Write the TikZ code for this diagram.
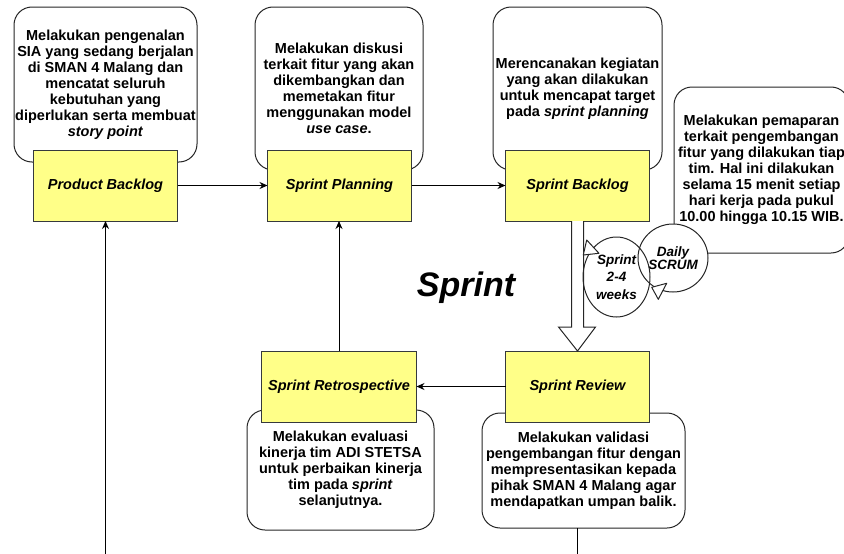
\documentclass[tikz,border=0pt]{standalone}
\usepackage{fontspec}
\setmainfont{Liberation Sans}
\usepackage{xcolor}
\usetikzlibrary{shapes,arrows,positioning,calc,arrows.meta}
\definecolor{boxyellow}{HTML}{FFFF88}
\definecolor{boxline}{HTML}{36393D}

\begin{document}
\begin{tikzpicture}[x=1pt, y=-1pt, line width=1pt, >={Stealth[length=8pt,width=7pt]}]
    % Styles
    \tikzstyle{phase} = [draw=boxline, rectangle, fill=boxyellow, minimum height=71pt, minimum width=144pt, inner sep=0pt, outer sep=0pt, font=\bfseries\itshape\fontsize{14.5}{16}\selectfont]
    \tikzstyle{note} = [draw=black!85, rectangle, rounded corners=18pt, fill=white, align=center, inner sep=0pt, outer sep=0pt, font=\bfseries\fontsize{14.5}{16}\selectfont]
    \tikzstyle{cyc} = [draw=black!85, ellipse, align=center, inner sep=0pt, font=\bfseries\itshape\fontsize{13.5}{17.5}\selectfont]
    \tikzstyle{cyctip} = [draw=black!85, fill=white, line join=round]
    \tikzstyle{flow} = [draw, ->]

    \useasboundingbox (0,0) rectangle (844,554);
    \clip (0,0) rectangle (844,554);

    % Notes
    \node [note, minimum width=183pt, minimum height=155pt] (PblNote) at (105.5,84.5) {Melakukan pengenalan\\SIA yang sedang berjalan\\di SMAN 4 Malang dan\\mencatat seluruh\\kebutuhan yang\\diperlukan serta membuat\\\textit{story point}};
    \node [note, minimum width=168pt, minimum height=163pt] (SplNote) at (339,88.5) {Melakukan diskusi\\terkait fitur yang akan\\dikembangkan dan\\memetakan fitur\\menggunakan model\\\textit{use case}.};
    \node [note, minimum width=169pt, minimum height=163pt] (SblNote) at (577.5,88.5) {Merencanakan kegiatan\\yang akan dilakukan\\untuk mencapat target\\pada \textit{sprint planning}};
    \node [note, minimum width=187pt, minimum height=120pt] (SrtNote) at (340.5,470) {Melakukan evaluasi\\kinerja tim ADI STETSA\\untuk perbaikan kinerja\\tim pada \textit{sprint}\\selanjutnya.};
    \node [note, minimum width=203pt, minimum height=115pt] (SrvNote) at (583.5,470.5) {Melakukan validasi\\pengembangan fitur dengan\\mempresentasikan kepada\\pihak SMAN 4 Malang agar\\mendapatkan umpan balik.};
    \node [note, minimum width=175pt, minimum height=166pt] (DlyNote) at (761.5,170) {Melakukan pemaparan\\terkait pengembangan\\fitur yang dilakukan tiap\\tim. Hal ini dilakukan\\selama 15 menit setiap\\hari kerja pada pukul\\10.00 hingga 10.15 WIB.};

    % Phases
    \node [phase] (Pbl) at (105.5,185.5) {Product Backlog};
    \node [phase, right=90pt of Pbl] (Spl) {Sprint Planning};
    \node [phase, right=94pt of Spl] (Sbl) {Sprint Backlog};
    \node [phase, below=130pt of Sbl] (Srv) {Sprint Review};
    \node [phase, minimum width=155pt, left=89pt of Srv] (Srt) {Sprint Retrospective};

    % Title
    \node [font=\bfseries\itshape\fontsize{34}{40}\selectfont, anchor=base] (SprintLbl) at (466,296) {Sprint};

    % Edges
    \coordinate (BotL) at (105.5,554);
    \coordinate (BotR) at (577.5,554);
    \draw[flow] (Pbl) -- (Spl);
    \draw[flow] (Spl) -- (Sbl);
    \draw[flow] (Srv) -- (Srt);
    \draw[flow] (Srt.north) -- (Srt.north |- Spl.south);
    \draw[flow] (BotL) -- (Pbl.south);
    \draw (SrvNote.south -| Srv.south) -- (BotR);

    % Sprint cycle arrow
    \draw [draw=black!85, fill=white, line join=miter]
        ($(Sbl.south)+(-6,0)$) -- ($(Srv.north)+(-6,-24)$) -- ($(Srv.north)+(-19,-24)$)
        -- (Srv.north) -- ($(Srv.north)+(18,-24)$) -- ($(Srv.north)+(6,-24)$)
        -- ($(Sbl.south)+(6,0)$);

    % Daily cycle
    \node [cyc, fill=white, minimum width=70pt, minimum height=68pt, font=\bfseries\itshape\fontsize{13.5}{13.5}\selectfont] (Dly) at (673,258) {Daily\\SCRUM};
    \node [cyc, minimum width=67pt, minimum height=80pt] (Cyc) at (616.5,277) {Sprint\\2-4\\weeks};
    \draw [cyctip] (586.7,240) -- (599,253.3) -- (583.3,255) -- cycle;
    \draw [cyctip] (651.7,287.3) -- (666.7,283.3) -- (658.3,299.3) -- cycle;

\end{tikzpicture}
\end{document}
